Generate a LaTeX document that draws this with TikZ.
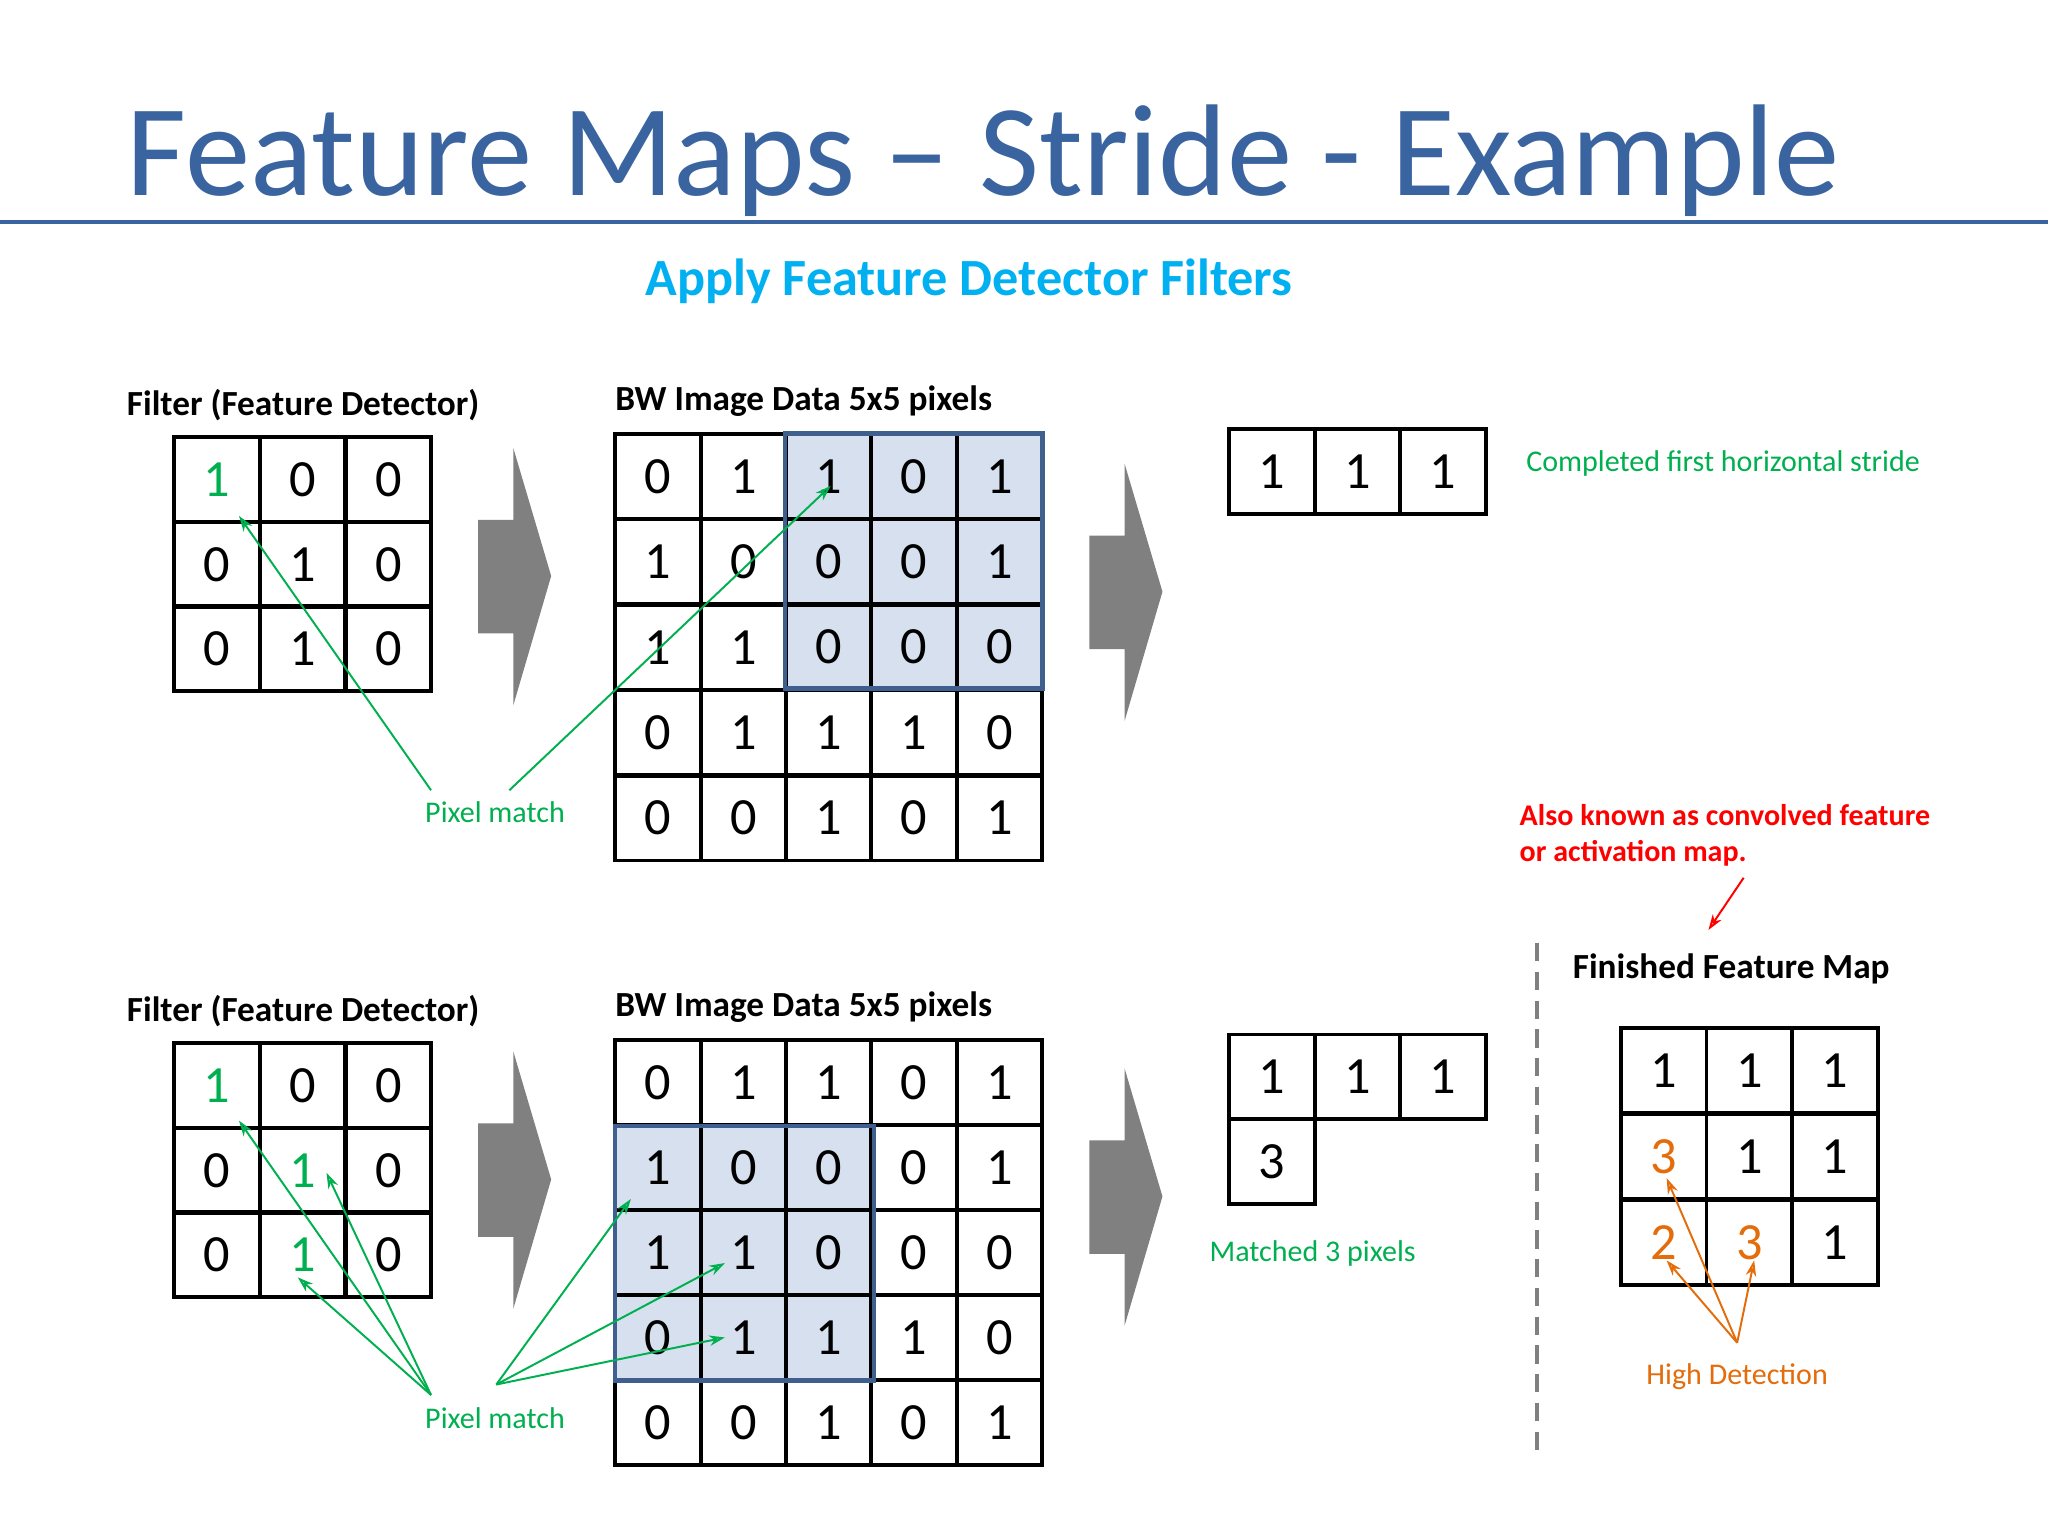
\documentclass[tikz,border=0pt]{standalone}
\usepackage{fontspec}
\setmainfont{Carlito}
\usetikzlibrary{arrows.meta}
\definecolor{ttl}{HTML}{3A64A0}
\definecolor{sub}{HTML}{00B0F0}
\definecolor{grn}{HTML}{00B050}
\definecolor{org}{HTML}{E46C0A}
\definecolor{hl}{HTML}{D6E0EE}
\definecolor{hlb}{HTML}{3F5F8F}
\definecolor{gry}{HTML}{808080}
\newcommand\gv[1]{\textcolor{grn}{#1}}
\newcommand\ov[1]{\textcolor{org}{#1}}
\begin{document}
\begin{tikzpicture}[x=1pt,y=-1pt,
  cell/.style={draw,line width=3pt,minimum width=65.5pt,minimum height=65pt,inner sep=0pt,font=\fontsize{40}{40}\selectfont},
  head/.style={anchor=base west,font=\fontsize{27}{27}\selectfont\bfseries},
  lbl/.style={font=\fontsize{23}{23}\selectfont},
  gar/.style={grn,line width=1.5pt,-{Stealth[length=12pt,width=8pt,open]}},
  oar/.style={org,line width=1.5pt,-{Stealth[length=12pt,width=8pt,open]}},
  chev/.style={fill=gry,draw=none},
  hlbox/.style={draw=hlb,line width=3.5pt}]
\useasboundingbox (0,0) rectangle (1568,1176);
\fill[white] (0,0) rectangle (1568,1176);
% title
\node[anchor=base west,ttl,font=\fontsize{100}{100}\selectfont,inner sep=0pt] (title) at (97,150) {Feature Maps – Stride - Example};
\draw[ttl,line width=3pt] (0,170) -- (1568,170);
\node[sub,font=\fontsize{40}{40}\selectfont\bfseries] (subtitle) at (742,215) {Apply Feature Detector Filters};
% headings
\node[head,inner sep=0pt] (fh1) at (97,318) {Filter (Feature Detector)};
\node[head,inner sep=0pt] (ih1) at (471,314) {BW Image Data 5x5 pixels};
\node[head,inner sep=0pt] (fh2) at (97,782) {Filter (Feature Detector)};
\node[head,inner sep=0pt] (ih2) at (471,778) {BW Image Data 5x5 pixels};
% highlights
\fill[hl] (601,332) rectangle (798,527);
\fill[hl] (471,862) rectangle (669,1057);
% top filter
\foreach \row [count=\r] in {{\gv1,0,0},{0,1,0},{0,1,0}}
  \foreach \v [count=\c] in \row
    \node[cell] (fa\r\c) at ({133+65.8*(\c-0.5)},{335+64.7*(\r-0.5)}) {\v};
% bottom filter
\foreach \row [count=\r] in {{\gv1,0,0},{0,\gv1,0},{0,\gv1,0}}
  \foreach \v [count=\c] in \row
    \node[cell] (fb\r\c) at ({133+65.8*(\c-0.5)},{799+64.7*(\r-0.5)}) {\v};
% images
\foreach \row [count=\r] in {{0,1,1,0,1},{1,0,0,0,1},{1,1,0,0,0},{0,1,1,1,0},{0,0,1,0,1}}
  \foreach \v [count=\c] in \row {
    \node[cell] (ia\r\c) at ({471+65.4*(\c-0.5)},{332+65.4*(\r-0.5)}) {\v};
    \node[cell] (ib\r\c) at ({471+65.4*(\c-0.5)},{796+65.2*(\r-0.5)}) {\v};
  }
\draw[hlbox] (601,332) rectangle (798,527);
\draw[hlbox] (471,862) rectangle (669,1057);
% chevrons
\foreach \x/\y in {366/343,834/355,366/805,834/818}
  \fill[chev] (\x,\y+55) -- (\x+27,\y+55) -- (\x+27,\y) -- (\x+56,\y+98) -- (\x+27,\y+197) -- (\x+27,\y+142) -- (\x,\y+142) -- cycle;
% result rows
\foreach \v [count=\c] in {1,1,1} {
  \node[cell] (ra\c) at ({941+65.5*(\c-0.5)},361) {\v};
  \node[cell] (rb\c) at ({941+65.5*(\c-0.5)},824.5) {\v};
}
\node[cell] (rb4) at (973.75,889.5) {3};
% finished map
\foreach \row [count=\r] in {{1,1,1},{\ov3,1,1},{\ov2,\ov3,1}}
  \foreach \v [count=\c] in \row
    \node[cell] (fm\r\c) at ({1241+65.5*(\c-0.5)},{787+65.7*(\r-0.5)}) {\v};
\draw[gry,line width=3pt,dash pattern=on 14pt off 8pt] (1177,722) -- (1177,1115);
% labels
\node[lbl,grn,anchor=west] (cfs) at (1165,355) {Completed first horizontal stride};
\node[lbl,grn] (pm1) at (379,622) {Pixel match};
\node[lbl,grn] (pm2) at (379,1086) {Pixel match};
\node[lbl,grn] (m3) at (1005,960) {Matched 3 pixels};
\node[lbl,org] (hd) at (1330,1054) {High Detection};
\node[lbl,red,font=\fontsize{23}{28}\selectfont\bfseries,anchor=north west,align=left] (akn) at (1160,612) {Also known as convolved feature\\or activation map.};
\node[head,inner sep=0pt] (ffm) at (1204,749) {Finished Feature Map};
% arrows
\coordinate (p1) at (330,605); \coordinate (p2) at (390,605);
\coordinate (p3) at (330,1068); \coordinate (p4) at (380,1060);
\coordinate (ho) at (1330,1028);
\coordinate (rs) at (1335,672); \coordinate (re) at (1308,712);
\coordinate (t1) at (183,395); \coordinate (t2) at (636,372);
\coordinate (b1) at (183,858); \coordinate (b2) at (250,898); \coordinate (b3) at (228,978);
\coordinate (b4) at (483,918); \coordinate (b5) at (555,967); \coordinate (b6) at (555,1024);
\coordinate (o1) at (1276,902); \coordinate (o2) at (1276,965); \coordinate (o3) at (1343,965);
\draw[gar] (p1) -- (t1);
\draw[gar] (p2) -- (t2);
\foreach \t in {b1,b2,b3} \draw[gar] (p3) -- (\t);
\foreach \t in {b4,b5,b6} \draw[gar] (p4) -- (\t);
\foreach \t in {o1,o2,o3} \draw[oar] (ho) -- (\t);
\draw[red,line width=1.5pt,-{Stealth[length=12pt,width=8pt,open]}] (rs) -- (re);
\end{tikzpicture}
\end{document}
